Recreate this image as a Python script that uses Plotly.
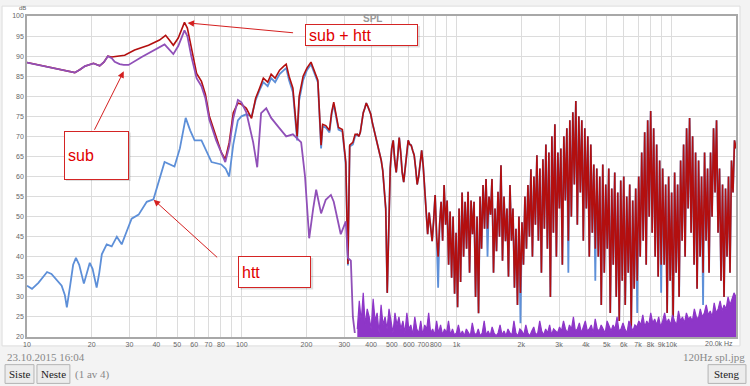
import numpy as np
import plotly.graph_objects as go

# ---------------- data ----------------
# htt (blue) – low-frequency part
htt_lf_freq = [10, 10.55, 11.3, 12.4, 13.0, 13.8, 14.5, 15.0, 15.33, 15.9,
               16.4, 16.9, 17.5, 18.4, 19.0, 19.6, 20.2, 20.7, 21.1, 21.7,
               22.3, 23.5, 24.8, 26.2, 27.6, 29.1, 30.7, 33.1, 36.1, 38.8,
               41.0, 43.7, 48.6, 51.5, 54.8, 57.5, 60.3, 64.9, 72.3, 80.3,
               84, 87.4, 91.3, 95.9, 99.6, 105, 111, 116, 121, 126,
               132, 137, 143, 150, 157, 161, 166, 173, 181, 185,
               193, 201, 210, 219, 226, 228, 234, 238, 246, 256,
               262, 268, 276, 282, 294, 305, 312, 318, 329, 337]
htt_lf_db = [32.8, 32.0, 33.5, 36.2, 35.7, 34.0, 32.8, 30.5, 27.4, 33,
             38, 39.7, 38, 33.3, 36, 38.5, 37, 34, 32.3, 36,
             40.6, 43.1, 42.6, 45, 43.1, 46.3, 49.5, 50.5, 53.7, 54.3,
             58.5, 63.6, 62.5, 67, 74.6, 71.5, 69, 69, 63.6, 63,
             62, 60, 68, 74, 75, 75.5, 75, 79, 81.5, 83.5,
             82.5, 84.5, 83.5, 85.5, 86.5, 87, 84, 81, 69, 79,
             84, 86.5, 88, 85.5, 83.5, 79.5, 67, 72.5, 72.2, 71,
             75.5, 78, 74.5, 71.7, 71.2, 63, 37.8, 67.5, 68, 70]

# sub (purple) – low-frequency part
sub_lf_freq = [10, 11.7, 13.8, 14.5, 16.7, 17.6, 18.6, 20.4, 21.8, 22.8,
               23.8, 24.8, 25.6, 27.0, 28.2, 29.7, 34.2, 43.7, 46.0, 48.0,
               50.6, 54.1, 55.8, 58.2, 61.6, 64.9, 67.7, 70.6, 76.0, 80.3,
               83.8, 87.4, 91.3, 95.9, 99.6, 105, 113, 118, 123, 130,
               137, 150, 161, 173, 185, 189, 197, 206, 215, 222,
               234, 246, 260, 268, 289, 305, 312, 322, 329, 336]
sub_lf_db = [88.4, 87.6, 86.8, 86.5, 85.9, 86.6, 87.5, 88.2, 87.6, 88.5,
             90.0, 89.5, 88.6, 88.0, 87.8, 87.8, 89.8, 92.9, 91.5, 90.5,
             92.5, 96.4, 95, 90, 84.5, 82.5, 79.5, 74.2, 69, 65.8,
             63.6, 67.5, 74.5, 79.1, 78.5, 76, 68.5, 62.3, 75.8, 77,
             74.6, 72, 70, 70.5, 69, 68.5, 60, 44.6, 52, 56.7,
             50.8, 54.2, 55.4, 53.7, 45.6, 48.8, 39.7, 39, 25, 21]

# sub + htt (red) – low-frequency part
sum_lf_freq = [10, 11.7, 13.8, 14.5, 16.7, 17.6, 18.6, 20.4, 21.8, 22.8,
               23.8, 24.8, 27.0, 28.5, 31.7, 36.8, 41.4, 44.2, 46.0, 48.0,
               50.6, 54.1, 55.8, 58.2, 61.6, 64.9, 67.7, 70.6, 76.0, 80.3,
               83.8, 87.4, 91.3, 95.9, 99.6, 105, 111, 116, 121, 126,
               132, 137, 143, 150, 157, 161, 166, 173, 181, 185,
               193, 201, 210, 219, 226, 228, 234, 238, 246, 256,
               262, 268, 276, 282, 294, 305, 312, 318, 329, 337]
sum_lf_db = [88.4, 87.6, 86.8, 86.5, 85.9, 86.6, 87.5, 88.2, 87.6, 88.5,
             90.0, 89.8, 90.0, 90.2, 91.5, 92.7, 94.0, 95.2, 94.0, 92.7,
             94.5, 98.4, 97, 92, 85.7, 83.7, 80.5, 75.1, 69.7, 66.0,
             64.3, 68.5, 75.9, 78.3, 78.0, 77, 74.5, 79.5, 82, 84.5,
             83.5, 85.5, 84.5, 86.5, 87.5, 88, 85, 82, 70, 80,
             85, 87, 88.5, 86, 84, 80, 67.8, 73, 72.7, 71.5,
             76, 78.5, 75, 72.2, 71.7, 63.6, 38.2, 67.8, 68.5, 70.5]

# high-frequency part: log-spaced sweep points from 345 Hz to 20 kHz
hf_start, hf_stop = 345, 20000
htt_hf_db = [70.5, 70, 71, 73.5, 75.9, 77, 78.3, 77.5, 76.5, 75.5,
             73.5, 72, 70.5, 68.5, 67.5, 65.5, 64, 61.5, 57, 52,
             31, 50.5, 62, 67, 69, 64, 61, 65, 69.7, 66,
             61, 58.6, 62, 67, 69, 68, 67.8, 66.5, 65.3, 62,
             58, 60, 64, 66.5, 62.8, 57, 50.5, 45.6, 51, 47,
             43.9, 49, 55.4, 45, 32.3, 48, 53.7, 44, 57.9, 48,
             54, 38, 51.3, 34.8, 50, 30.8, 46, 27.4, 52, 33.7,
             56, 40, 53.7, 42, 56.2, 36, 54, 45.6, 53.7, 30,
             50, 25.9, 55, 42, 57.9, 47, 59.4, 40, 55, 50.5,
             59.4, 36, 52, 41.4, 56.2, 45, 62.8, 39, 55, 43.9,
             52, 35, 57.9, 44, 52, 32.3, 47, 28, 50, 23.4,
             48.6, 38, 55, 42, 57.9, 45, 61.8, 40, 60, 48,
             65.3, 44, 62, 36, 64.3, 47, 68, 42, 66, 30,
             70, 46, 73, 40, 66, 52, 67, 38, 70, 54,
             72, 36, 74, 50, 76, 58, 78.8, 48, 75, 56,
             74, 44, 72, 52, 70, 40, 68, 46, 63, 34,
             62, 40, 60, 28, 63, 36, 58, 42, 62, 26,
             57, 38, 61, 30, 56, 24, 59, 34, 60, 28,
             55, 36, 58, 22.5, 54, 32, 57, 26, 60, 40,
             66, 44, 71, 38, 74, 50, 76.3, 46, 72, 40,
             68, 35, 64, 31, 62, 38, 58, 26, 60, 34,
             56, 24, 61, 36, 58, 30, 64, 44, 68, 40,
             72, 52, 74.6, 46, 70, 38, 66, 32, 64, 40,
             60, 28, 66, 44, 62, 36, 66, 50, 72, 56,
             74, 46, 62, 34, 58, 30, 57, 40, 60, 36,
             64, 56, 69, 67]
# above ~340 Hz the sub is >30 dB down, so the sum follows htt,
# except at a few dips where the blue htt trace shows below the red sum
sum_hf_dip_fill = {54: 40, 87: 47, 109: 31, 141: 44, 159: 42, 187: 34, 203: 38, 231: 36}

sub_hf_db = [22, 29, 24, 31, 23, 27, 25, 22, 29.5, 24, 26, 21, 28, 23, 25, 22, 27, 24, 21, 26, 23, 25, 22,
             24, 21, 26, 22, 23, 20.5, 25, 22, 21, 24, 20.5, 23, 22, 26, 21, 22, 20.5, 24, 21, 23, 20.5, 22, 21, 24, 20.5,
             22, 20.5, 21, 23, 20.5, 21.5, 20.3, 22, 21, 20.3, 23.5, 21, 20.5, 22, 20.3, 21, 24, 20.5, 21.5, 20.3,
             22.5, 21, 20.3, 21, 23, 20.5, 21.5, 20.3, 22, 21, 20.5, 24, 21, 20.3, 22, 21.5, 20.5, 23, 21, 20.3,
             21.5, 22.5, 20.5, 21, 24, 21.5, 20.5, 22, 21, 23, 20.5, 22, 21.5,
             21, 22.5, 21.5, 24, 22, 21, 23, 22, 25, 21.5, 22, 23.5, 21, 22.5, 24, 21.5, 22, 23, 21, 24.5,
             22, 21.5, 23, 22, 21, 24, 22.5, 21.5, 23, 22, 25, 21.5, 22, 23.5, 22, 21, 24, 22.5, 21.5, 23,
             22.5, 24, 23, 25.5, 22.5, 24, 23, 26, 23.5, 24.5, 23, 25, 22.5, 24, 26, 23.5, 24.5, 23, 25.5, 24,
             23, 26.5, 24, 25, 23.5, 26, 24.5, 25, 24, 27,
             25, 24.5, 27, 25, 26, 28, 25.5, 26.5, 25, 28.5, 26, 27, 29, 26.5, 28, 27, 30, 28, 29.5, 31, 30]

x_tick_vals = [10, 20, 30, 40, 50, 60, 70, 80, 90, 100, 200, 300, 400, 500, 600, 700, 800, 900,
               1000, 2000, 3000, 4000, 5000, 6000, 7000, 8000, 9000, 10000]
x_tick_text = ["10", "20", "30", "40", "50", "60", "70", "80", "", "100", "200", "300", "400", "500",
               "600", "700", "800", "", "1k", "2k", "3k", "4k", "5k", "6k", "7k", "8k", "9k", "10k"]
x_end_label = "20.0k Hz"
y_tick_vals = list(range(20, 101, 5))

# ---------------- figure ----------------
W, H = 750, 386
L, R, T, B = 25, 736, 12, 337


def px(x):
    """window pixel x -> paper (plot-area) fraction"""
    return (x - L) / (R - L)


def py(y):
    """window pixel y -> paper (plot-area) fraction"""
    return (B - y) / (B - T)


sum_hf_db = [sum_hf_dip_fill.get(i, v) for i, v in enumerate(htt_hf_db)]
htt_hf_freq = np.geomspace(hf_start, hf_stop, len(htt_hf_db))
sum_hf_freq = np.geomspace(hf_start, hf_stop, len(sum_hf_db))
sub_hf_freq = np.geomspace(hf_start, hf_stop, len(sub_hf_db))

BLUE = "#5d8fd8"
RED = "#b30f0f"
PURPLE = "#9050b8"
PURPLE_FILL = "#8e36c8"

fig = go.Figure()
fig.add_trace(go.Scatter(x=list(htt_lf_freq) + list(htt_hf_freq), y=htt_lf_db + htt_hf_db,
                         mode="lines", line=dict(color=BLUE, width=1.8), name="htt"))
fig.add_trace(go.Scatter(x=list(sum_lf_freq) + list(sum_hf_freq), y=sum_lf_db + sum_hf_db,
                         mode="lines", line=dict(color=RED, width=1.6), name="sub + htt"))
fig.add_trace(go.Scatter(x=sub_lf_freq, y=sub_lf_db, mode="lines",
                         line=dict(color=PURPLE, width=1.8), name="sub"))
fig.add_trace(go.Scatter(x=sub_hf_freq, y=sub_hf_db, mode="lines", fill="tozeroy",
                         fillcolor=PURPLE_FILL, line=dict(color=PURPLE_FILL, width=1.2),
                         name="sub", showlegend=False))

axis_common = dict(showgrid=True, gridcolor="#dcdcdc", gridwidth=1, zeroline=False,
                   showline=True, linecolor="#a8a8a8", linewidth=1.5, mirror=True,
                   ticks="", tickfont=dict(size=7, color="#666", family="Liberation Sans"))
fig.update_xaxes(type="log", range=[1, np.log10(20000)], tickvals=x_tick_vals,
                 ticktext=x_tick_text, tickangle=0, **axis_common)
fig.update_yaxes(range=[20, 100], tickvals=y_tick_vals, **axis_common)

shapes = []
annotations = []

# white chart panel
shapes.append(dict(type="rect", xref="paper", yref="paper", x0=px(0), x1=px(740), y0=py(346), y1=py(2),
                   fillcolor="white", line=dict(color="#dddddd", width=1), layer="below"))

# unit labels and title
annotations.append(dict(text="dB", x=px(15), y=py(3.5), xref="paper", yref="paper", showarrow=False,
                        yanchor="middle", font=dict(size=6, color="#666", family="Liberation Sans")))
annotations.append(dict(text=x_end_label, x=px(735), y=py(343.5), xref="paper", yref="paper",
                        xanchor="right", yanchor="middle", showarrow=False,
                        font=dict(size=7, color="#666", family="Liberation Sans")))
annotations.append(dict(text="<b>SPL</b>", x=px(371), y=py(14.5), xref="paper", yref="paper",
                        yanchor="middle", showarrow=False,
                        font=dict(size=10, color="#999", family="Liberation Sans")))


def callout(text, x0, y0, x1, y1):
    pad, bw = 3, 1
    shapes.append(dict(type="rect", xref="paper", yref="paper", x0=px(x0 + 2), x1=px(x1 + 2),
                       y0=py(y1 + 2), y1=py(y0 + 2), fillcolor="rgba(0,0,0,0.13)",
                       line=dict(width=0), layer="above"))
    annotations.append(dict(text=text, x=px(x0), y=py(y0), xref="paper", yref="paper",
                            xanchor="left", yanchor="top", showarrow=False,
                            width=x1 - x0 - 2 * pad - 2 * bw, height=y1 - y0 - 2 * pad - 2 * bw,
                            align="left", valign="middle", bgcolor="white",
                            bordercolor="#d42424", borderwidth=bw, borderpad=pad,
                            font=dict(size=16, color="#e00000", family="Liberation Sans")))


def arrow(tail_x, tail_y, tip_x, tip_y):
    annotations.append(dict(text="", x=px(tip_x), y=py(tip_y), xref="paper", yref="paper",
                            showarrow=True, ax=tail_x - tip_x, ay=tail_y - tip_y,
                            arrowcolor="#d42020", arrowwidth=1, arrowhead=2, arrowsize=1.3,
                            standoff=0, startstandoff=0))


callout("sub + htt", 304, 20, 417, 42)
callout("sub", 62, 128, 127, 177)
callout("htt", 237, 255, 310, 287)
arrow(293, 29, 186, 19)
arrow(92, 128, 122, 68)
arrow(217, 257, 152, 198)

# status bar
serif = "Liberation Serif"
annotations.append(dict(text="23.10.2015 16:04", x=px(3), y=py(357), xref="paper", yref="paper",
                        xanchor="left", yanchor="middle", showarrow=False,
                        font=dict(size=11, color="#888", family=serif)))
annotations.append(dict(text="120Hz spl.jpg", x=px(747), y=py(357), xref="paper", yref="paper",
                        xanchor="right", yanchor="middle", showarrow=False,
                        font=dict(size=11, color="#888", family=serif)))
for label, bx0, bx1 in [("Siste", 3, 32), ("Neste", 35, 68), ("Steng", 708, 746)]:
    shapes.append(dict(type="rect", xref="paper", yref="paper", x0=px(bx0), x1=px(bx1),
                       y0=py(384), y1=py(365), fillcolor="#ececec",
                       line=dict(color="#b4b4b4", width=1), layer="above"))
    annotations.append(dict(text=label, x=px((bx0 + bx1) / 2), y=py(374.5), xref="paper", yref="paper",
                            xanchor="center", yanchor="middle", showarrow=False,
                            font=dict(size=11, color="#222", family=serif)))
annotations.append(dict(text="(1 av 4)", x=px(71), y=py(374.5), xref="paper", yref="paper",
                        xanchor="left", yanchor="middle", showarrow=False,
                        font=dict(size=11, color="#888", family=serif)))

fig.update_layout(width=W, height=H, autosize=False,
                  margin=dict(l=L, r=W - R, t=T, b=H - B, pad=0),
                  paper_bgcolor="#f3f3f3", plot_bgcolor="white", showlegend=False,
                  shapes=shapes, annotations=annotations)

fig.write_html("out.html", config={"displayModeBar": False, "responsive": False})
with open("out.html", "r", encoding="utf-8") as f:
    html = f.read()
html = html.replace("<body>", '<body style="margin:0;padding:0;overflow:hidden">', 1)
with open("out.html", "w", encoding="utf-8") as f:
    f.write(html)
